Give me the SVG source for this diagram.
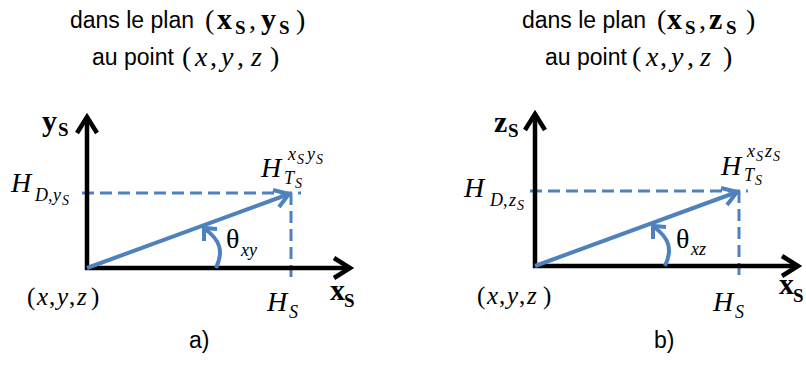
<svg xmlns="http://www.w3.org/2000/svg" width="806" height="381" viewBox="0 0 806 381">
<style>
.sans{font-family:"Liberation Sans",Arial,sans-serif;font-size:23px;fill:#000}
.m{font-family:"Liberation Serif","Times New Roman",serif;fill:#000}
.i{font-style:italic}
.b{font-weight:bold}
.axis{fill:none;stroke:#000;stroke-width:4.5;stroke-linejoin:miter}
.vec{fill:none;stroke:#4F81BD;stroke-width:4;stroke-linejoin:miter}
.dash{fill:none;stroke:#4F81BD;stroke-width:3;stroke-dasharray:12 6}
</style>

<g id="title-a">
<text class="sans" x="70" y="28">dans le plan</text>
<text class="m" y="29"><tspan x="205" font-size="28">(</tspan><tspan x="217" class="b" font-size="30">x</tspan><tspan x="235" y="34" class="b" font-size="19">S</tspan><tspan x="249" y="29" font-size="28">,</tspan><tspan x="261" class="b" font-size="30">y</tspan><tspan x="279" y="34" class="b" font-size="19">S</tspan><tspan x="296" y="29" font-size="28">)</tspan></text>
<text class="sans" x="92" y="65">au point</text>
<text class="m" y="66" font-size="28"><tspan x="182">(</tspan><tspan x="195" class="i">x</tspan><tspan x="210">,</tspan><tspan x="221" class="i">y</tspan><tspan x="237">,</tspan><tspan x="251" class="i">z</tspan><tspan x="270">)</tspan></text>
</g>

<g id="title-b">
<text class="sans" x="522" y="28">dans le plan</text>
<text class="m" y="29"><tspan x="657" font-size="28">(</tspan><tspan x="667" class="b" font-size="30">x</tspan><tspan x="685" y="34" class="b" font-size="19">S</tspan><tspan x="699" y="29" font-size="28">,</tspan><tspan x="709" class="b" font-size="30">z</tspan><tspan x="726" y="34" class="b" font-size="19">S</tspan><tspan x="746" y="29" font-size="28">)</tspan></text>
<text class="sans" x="545" y="65">au point</text>
<text class="m" y="66" font-size="28"><tspan x="632">(</tspan><tspan x="646" class="i">x</tspan><tspan x="660">,</tspan><tspan x="671" class="i">y</tspan><tspan x="687">,</tspan><tspan x="700" class="i">z</tspan><tspan x="723">)</tspan></text>
</g>

<g id="connectors">
<!-- panel a -->
<polyline class="dash" points="82,193 301,193"/>
<polyline class="dash" points="291,193 291,280"/>
<polyline class="axis" points="87,117 87,270"/>
<polyline class="axis" points="77,133 87,117 97,133"/>
<polyline class="axis" points="85,268 350,268"/>
<polyline class="axis" points="334,258 350,268 334,278"/>
<polyline class="vec" points="87,268 289,194"/>
<polyline class="vec" points="273,190 289,194 279,207"/>
<path class="vec" d="M216,268 C224,251 220,240 205,229"/>
<polyline class="vec" points="204,241 204,228 217,229"/>
<!-- panel b -->
<polyline class="dash" points="530,191 748,191"/>
<polyline class="dash" points="739,191 739,276"/>
<polyline class="axis" points="535,114 535,268"/>
<polyline class="axis" points="525,130 535,114 545,130"/>
<polyline class="axis" points="533,266 798,266"/>
<polyline class="axis" points="782,256 798,266 782,276"/>
<polyline class="vec" points="535,266 737,192"/>
<polyline class="vec" points="721,188 737,192 727,205"/>
<path class="vec" d="M665,266 C673,249 669,238 654,227"/>
<polyline class="vec" points="653,239 653,226 666,227"/>
</g>

<g id="labels-a">
<text class="m b" x="42" y="131" font-size="30">y<tspan x="58" y="136" font-size="19">S</tspan></text>
<text class="m b" x="330" y="300" font-size="30">x<tspan x="344" y="307" font-size="19">S</tspan></text>
<text class="m i" x="11" y="192" font-size="28">H<tspan x="35" y="201" font-size="18">D</tspan><tspan x="48" y="201" font-size="18" font-style="normal">,</tspan><tspan x="53" y="201" font-size="18">y</tspan><tspan x="62" y="205" font-size="14">S</tspan></text>
<text class="m i" x="261" y="177" font-size="28">H<tspan x="288" y="160" font-size="18">x</tspan><tspan x="297" y="164" font-size="14">S</tspan><tspan x="307" y="160" font-size="18">y</tspan><tspan x="316" y="164" font-size="14">S</tspan><tspan x="284" y="184" font-size="18">T</tspan><tspan x="295" y="188" font-size="14">S</tspan></text>
<text class="m" x="226" y="248" font-size="28">θ<tspan class="i" x="241" y="256" font-size="18">xy</tspan></text>
<text class="m" y="305" font-size="25"><tspan x="27">(</tspan><tspan x="37" class="i">x</tspan><tspan x="49">,</tspan><tspan x="57" class="i">y</tspan><tspan x="69">,</tspan><tspan x="77" class="i">z</tspan><tspan x="91">)</tspan></text>
<text class="m i" x="267" y="311" font-size="28">H<tspan x="289" y="318" font-size="18">S</tspan></text>
<text class="sans" x="189" y="348" font-size="22">a)</text>
</g>

<g id="labels-b">
<text class="m b" x="494" y="132" font-size="30">z<tspan x="508" y="137" font-size="19">S</tspan></text>
<text class="m b" x="779" y="294" font-size="30">x<tspan x="793" y="302" font-size="19">S</tspan></text>
<text class="m i" x="464" y="197" font-size="28">H<tspan x="490" y="206" font-size="18">D</tspan><tspan x="503" y="206" font-size="18" font-style="normal">,</tspan><tspan x="509" y="206" font-size="18">z</tspan><tspan x="517" y="210" font-size="14">S</tspan></text>
<text class="m i" x="721" y="175" font-size="28">H<tspan x="747" y="157" font-size="18">x</tspan><tspan x="756" y="161" font-size="14">S</tspan><tspan x="765" y="157" font-size="18">z</tspan><tspan x="773" y="161" font-size="14">S</tspan><tspan x="744" y="181" font-size="18">T</tspan><tspan x="755" y="185" font-size="14">S</tspan></text>
<text class="m" x="676" y="248" font-size="28">θ<tspan class="i" x="691" y="255" font-size="18">xz</tspan></text>
<text class="m" y="304" font-size="25"><tspan x="477">(</tspan><tspan x="487" class="i">x</tspan><tspan x="499">,</tspan><tspan x="507" class="i">y</tspan><tspan x="519">,</tspan><tspan x="527" class="i">z</tspan><tspan x="543">)</tspan></text>
<text class="m i" x="713" y="311" font-size="28">H<tspan x="735" y="318" font-size="18">S</tspan></text>
<text class="sans" x="654" y="348" font-size="22">b)</text>
</g>
</svg>
